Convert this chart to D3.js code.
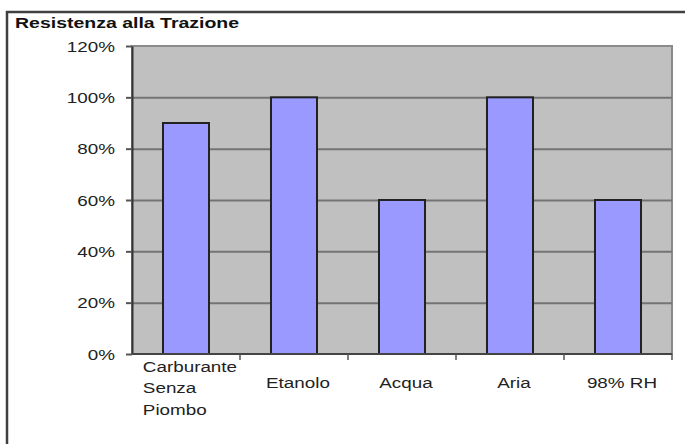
<!DOCTYPE html>
<html>
<head>
<meta charset="utf-8">
<script src="https://cdn.jsdelivr.net/npm/d3@7"></script>
<style>
  body { margin: 0; background: #fff; }
  text { font-family: "Liberation Sans", Arial, sans-serif; }
</style>
</head>
<body>
<div id="chart"></div>
<script>
// Chart data
const title = "Resistenza alla Trazione";
const categories = ["Carburante Senza Piombo", "Etanolo", "Acqua", "Aria", "98% RH"];
const values = [0.9, 1.0, 0.6, 1.0, 0.6];
const yTicks = [0, 0.2, 0.4, 0.6, 0.8, 1.0, 1.2];

// Display settings
const width = 685;
const height = 444;
const margin = { top: 46, right: 13, bottom: 90, left: 132 };
const textStretch = 1.3; // the source picture is stretched sideways
const fontSize = "14.5px";

const svg = d3
  .select("#chart")
  .append("svg")
  .attr("width", width)
  .attr("height", height);

// Outer frame (cropped on right and bottom)
svg
  .append("rect")
  .attr("x", 7)
  .attr("y", 12)
  .attr("width", width + 20)
  .attr("height", height + 20)
  .attr("fill", "none")
  .attr("stroke", "#404040")
  .attr("stroke-width", 2.5);

// Title
svg
  .append("text")
  .attr("transform", `translate(15, 28) scale(${textStretch}, 1)`)
  .attr("font-size", "15px")
  .attr("font-weight", "bold")
  .attr("fill", "#111")
  .text(title);

// Scales
const xScale = d3
  .scaleBand()
  .domain(categories)
  .range([margin.left, width - margin.right])
  .paddingInner(0.574)
  .paddingOuter(0.287);

const yScale = d3
  .scaleLinear()
  .domain([0, 1.2])
  .range([height - margin.bottom, margin.top]);

const x0 = margin.left;
const x1 = width - margin.right;
const y0 = yScale(0);

// Plot area background
svg
  .append("rect")
  .attr("x", x0)
  .attr("y", margin.top)
  .attr("width", x1 - x0)
  .attr("height", y0 - margin.top)
  .attr("fill", "#c0c0c0")
  .attr("stroke", "#8a8a8a")
  .attr("stroke-width", 2);

// Gridlines
svg
  .append("g")
  .attr("class", "grid")
  .attr("transform", `translate(${x0}, 0)`)
  .call(
    d3
      .axisLeft(yScale)
      .tickValues(yTicks.slice(1, -1))
      .tickSize(-(x1 - x0))
      .tickFormat("")
  )
  .call((g) => g.select(".domain").remove())
  .call((g) =>
    g.selectAll("line").attr("stroke", "#747474").attr("stroke-width", 2)
  );

// Bars
svg
  .append("g")
  .selectAll("rect")
  .data(values)
  .enter()
  .append("rect")
  .attr("x", (d, i) => xScale(categories[i]))
  .attr("y", (d) => yScale(d))
  .attr("width", xScale.bandwidth())
  .attr("height", (d) => y0 - yScale(d))
  .attr("fill", "#9999ff")
  .attr("stroke", "#222")
  .attr("stroke-width", 2);

// y axis
svg
  .append("g")
  .attr("transform", `translate(${x0}, 0)`)
  .call(
    d3
      .axisLeft(yScale)
      .tickValues(yTicks)
      .tickSize(6)
      .tickSizeOuter(0)
      .tickFormat(d3.format(".0%"))
  )
  .call((g) =>
    g.select(".domain").attr("stroke", "#333").attr("stroke-width", 2)
  )
  .call((g) =>
    g.selectAll(".tick line").attr("stroke", "#555").attr("stroke-width", 2)
  )
  .call((g) =>
    g
      .selectAll(".tick text")
      .attr("x", -17 / textStretch)
      .attr("dy", "0.36em")
      .attr("transform", `scale(${textStretch}, 1)`)
      .attr("font-size", fontSize)
      .attr("font-family", null)
      .attr("fill", "#222")
  );

// x axis: line and ticks between categories
const step = xScale.step();
const boundaries = d3.range(1, categories.length + 1).map((k) => x0 + k * step);

svg
  .append("line")
  .attr("x1", x0)
  .attr("x2", x1)
  .attr("y1", y0)
  .attr("y2", y0)
  .attr("stroke", "#444")
  .attr("stroke-width", 2);

svg
  .append("g")
  .selectAll("line")
  .data(boundaries)
  .enter()
  .append("line")
  .attr("x1", (d) => d)
  .attr("x2", (d) => d)
  .attr("y1", y0)
  .attr("y2", y0 + 6)
  .attr("stroke", "#555")
  .attr("stroke-width", 1.5);

// Category labels, wrapped to the category width and left aligned as a block
const labels = svg.append("g").attr("font-size", fontSize).attr("fill", "#222");

const measure = (str) => {
  const probe = labels.append("text").attr("opacity", 0).text(str);
  const w = probe.node().getComputedTextLength();
  probe.remove();
  return w;
};

const wrapWords = (label) => {
  const lines = [];
  let current = "";
  for (const word of label.split(" ")) {
    const test = current ? current + " " + word : word;
    if (current && measure(test) * textStretch > step) {
      lines.push(current);
      current = word;
    } else {
      current = test;
    }
  }
  lines.push(current);
  return lines;
};

const lineHeight = 21.5;

categories.forEach((cat, i) => {
  const lines = wrapWords(cat);
  const blockWidth = d3.max(lines, measure);
  const cx = xScale(cat) + xScale.bandwidth() / 2 + 4;
  const firstBaseline = y0 + 34 - (lines.length - 1) * 8;
  const text = labels
    .append("text")
    .attr(
      "transform",
      `translate(${cx}, ${firstBaseline}) scale(${textStretch}, 1)`
    )
    .attr("text-anchor", "start");
  lines.forEach((line, j) => {
    text
      .append("tspan")
      .attr("x", -blockWidth / 2)
      .attr("y", j * lineHeight)
      .text(line);
  });
});
</script>
</body>
</html>
